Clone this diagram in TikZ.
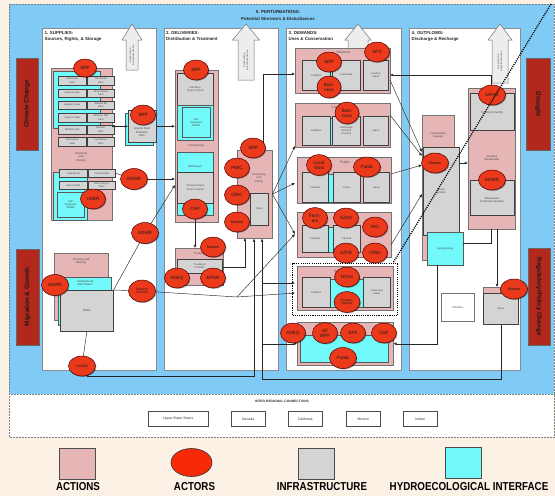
\documentclass[tikz,border=0pt]{standalone}
\usepackage{fontspec}
\setmainfont{Liberation Sans}
\usetikzlibrary{shapes.geometric,arrows.meta,shadows,calc}
\pgfdeclarelayer{top}
\pgfsetlayers{main,top}
\definecolor{cream}{HTML}{FBF1E4}
\definecolor{bluec}{HTML}{80CBF6}
\definecolor{barred}{HTML}{B3281D}
\definecolor{pinkc}{HTML}{E6B5B5}
\definecolor{grayc}{HTML}{D4D4D4}
\definecolor{cyanc}{HTML}{72FAFA}
\definecolor{actc}{HTML}{EB3A1B}
\definecolor{legred}{HTML}{F72A08}
\definecolor{evapc}{HTML}{EDEDED}
\tikzset{
 bx/.style n args={4}{anchor=north west, at={(#1,#2)}, minimum width=#3, minimum height=#4},
 base/.style={inner sep=0.3pt, align=center, text=black!70, font=\fontsize{2.6}{3.1}\selectfont},
 sh/.style={drop shadow={shadow xshift=0.9pt, shadow yshift=-0.9pt, opacity=0.35, fill=black}},
 colbox/.style={draw=black!45, fill=white, line width=0.4pt, inner sep=0},
 act/.style={base, draw=black!55, fill=pinkc, line width=0.45pt, sh},
 inf/.style={base, draw=black!75, fill=grayc, line width=0.6pt, sh},
 hyd/.style={base, draw=black!65, fill=cyanc, line width=0.45pt, sh},
 actor/.style={ellipse, draw=black!70!red, fill=actc, line width=0.5pt, minimum width=25, minimum height=20, inner sep=0pt, align=center, text=black!90, font=\fontsize{4.6}{5}\selectfont, sh},
 arr/.style={line width=0.45pt, draw=black!85, -{Latex[length=3.2pt,width=2.8pt]}},
 ln/.style={line width=0.45pt, draw=black!85},
 hdr/.style={inner sep=0, text=black!85, font=\bfseries\fontsize{4.4}{6.5}\selectfont},
 lab/.style={inner sep=0, align=center, text=black!70, font=\fontsize{2.8}{3.3}\selectfont},
 redbar/.style={draw=black!60, fill=barred, line width=0.5pt, inner sep=0, font=\bfseries\fontsize{6.3}{7}\selectfont, text=black!90},
 evap/.style={draw=black!55, fill=evapc, line width=0.5pt},
 reg/.style={draw=black!70, fill=white, line width=0.5pt, minimum height=15, inner sep=0, font=\fontsize{3.5}{4}\selectfont, text=black!80, sh},
 legt/.style={inner sep=0, font=\bfseries\fontsize{11.5}{12}\selectfont, xscale=0.85},
 dotbox/.style={draw=black, line width=1.2pt, dash pattern=on 1.1pt off 1.1pt},
}
\begin{document}
\begin{tikzpicture}[x=1pt,y=-1pt]
\useasboundingbox (0,0) rectangle (555,496);
\fill[cream] (0,0) rectangle (555,496);
\fill[bluec] (9,4) rectangle (554,394);
\fill[white] (9,394) rectangle (554,437);
\draw[black!50, densely dotted, line width=0.5pt] (9,4) rectangle (554,437);
\draw[black!50, densely dotted, line width=0.5pt] (9,394) -- (554,394);

\node[hdr] (t0) at (278,12) {0. PERTURBATIONS:};
\node[hdr] (t0b) at (278,18.5) {Potential Stressors \& Disturbances};

% side bars
\node[redbar, minimum width=92, minimum height=22, rotate=90] (cc) at (27,104) {Climate Change};
\node[redbar, minimum width=96, minimum height=23, rotate=90] (mg) at (27.5,297) {Migration \& Growth};
\node[redbar, minimum width=92, minimum height=24, rotate=-90] (dr) at (538,104) {Drought};
\node[redbar, minimum width=97, minimum height=22, rotate=-90] (rp) at (539,296.5) {Regulatory/Policy Change};

% columns
\node[colbox, bx={42}{28}{114}{342}] (col1) {};
\node[colbox, bx={163.5}{28}{114.5}{342}] (col2) {};
\node[colbox, bx={286}{28}{115}{342}] (col3) {};
\node[colbox, bx={409}{28}{111}{342}] (col4) {};

\node[hdr, anchor=north west, align=left] (h1) at (44.5,31) {1. SUPPLIES:\\Sources, Rights, \& Storage};
\node[hdr, anchor=north west, align=left] (h2) at (166,31) {2. DELIVERIES:\\Distribution \& Treatment};
\node[hdr, anchor=north west, align=left] (h3) at (288.5,31) {3. DEMANDS:\\Uses \& Conservation};
\node[hdr, anchor=north west, align=left] (h4) at (411.5,31) {4. OUTFLOWS:\\Discharge \& Recharge};

% evaporation arrows
\foreach \cx/\hw/\sw/\bot [count=\i] in {132/10/6/70, 246/13.5/8/80, 358/13/10/80, 500/12/8/83}{
  \draw[evap] (\cx,24) -- (\cx+\hw,40) -- (\cx+\sw,40) -- (\cx+\sw,\bot) -- (\cx-\sw,\bot) -- (\cx-\sw,40) -- (\cx-\hw,40) -- cycle;
  \node[lab, rotate=90, font=\fontsize{2.4}{2.9}\selectfont] (ev\i) at (\cx,{(40+\bot)/2}) {Evaporation \&\\Evapotranspiration};
}

% ---------- column 1
\node[act, bx={51}{68}{61}{152}] (dam) {};
\node[lab] (damt) at (81,157) {Damming\\and\\Storing};
\node[hyd, bx={53}{71}{47}{57}] (damcy) {};
\foreach \r/\yy/\la/\lb in {1/76/{Roosevelt\\Lake}/{Roosevelt\\Dam}, 2/88.5/{Apache Lake}/{Horse Mesa\\Dam}, 3/100.5/{Saguaro Lake}/{Stewart Mt\\Dam}, 4/113/{Canyon Lake}/{Mormon Flat\\Dam}, 5/125/{Bartlett Lake}/{Bartlett\\Dam}, 6/137/{Horseshoe\\Lake}/{Horseshoe\\Dam}}{
  \node[inf, bx={58}{\yy}{28}{8.5}] (gl\r) {\la};
  \node[inf, bx={87}{\yy}{27}{8.5}] (gr\r) {\lb};
}
\node[hyd, bx={125}{113}{28}{32}] (divcy) {};
\node[inf, bx={128}{110}{28}{32}] (div) {};
\node[lab] (divt) at (142,132) {Granite Reef\\Diversion\\Dam};

\node[hyd, bx={53}{172}{34}{48}] (lmcy) {};
\node[hyd, bx={57}{192}{27}{25}] (fish1) {Fish\\Vegetation\\Wildlife};
\node[inf, bx={59}{169}{28}{8}] (lmead) {Lake Mead};
\node[inf, bx={88}{169}{27}{8}] (hoover) {Hoover Dam};
\node[inf, bx={59}{181}{28}{8}] (lpowell) {Lake Powell};
\node[inf, bx={88}{181}{27}{8}] (glen) {Glen Canyon\\Dam};

\node[act, bx={54}{253}{54}{67}] (pump) {};
\node[lab, anchor=north] (pumpt) at (81,258) {Pumping and\\Banking};
\node[hyd, bx={58}{277}{53}{48}] (ugw) {};
\node[lab, anchor=north] (ugwt) at (85,280) {Underground\\Water Basin};
\node[inf, bx={60}{290}{53}{41}, font=\fontsize{3}{3.5}\selectfont] (wells) {Wells};

% ---------- column 2
\node[act, bx={175}{70}{43}{152}] (trans) {};
\node[inf, bx={177}{73}{36}{32}] (srpc) {Salt River\\Project Canals};
\node[hyd, bx={177}{105}{36}{35}] (fishcy) {};
\node[hyd, bx={182}{107}{28}{30}] (fish2) {Fish\\Vegetation\\Wildlife};
\node[lab] (transt) at (196,146) {Transporting};
\node[hyd, bx={177}{152}{36}{21}] (wway) {};
\node[lab] (wwayt) at (195,167) {Waterways};
\node[hyd, bx={177}{200}{36}{15}] (capcy) {};
\node[inf, bx={177}{172}{36}{31}] (capc) {Central Arizona\\Project Canals};

\node[act, bx={175}{248}{48}{37}] (treat) {};
\node[lab] (treatt) at (199,254) {Treating};
\node[inf, bx={177}{259}{45}{14}] (tfac) {Treatment\\Facilities};

\node[act, bx={237}{150}{35}{88}] (piping) {};
\node[lab] (pipingt) at (259,178) {Structuring\\and\\Piping};
\node[inf, bx={250}{193}{18}{32}] (pipes2) {Pipes};

% ---------- column 3
\node[act, bx={295}{48}{95}{45}] (ind) {};
\node[lab, font=\fontsize{3.2}{3.6}\selectfont] (indt) at (343,52) {Industrial};
\node[hyd, bx={328}{62}{6}{28}] (indcy) {};
\node[inf, bx={302}{60}{28}{30}] (indf) {Facilities};
\node[inf, bx={332}{60}{28}{30}] (indl) {Landscape};
\node[inf, bx={363}{60}{25}{30}] (indc) {Cooling\\Lakes};

\node[act, bx={295}{103}{95}{44}] (com) {};
\node[lab, font=\fontsize{3.2}{3.6}\selectfont] (comt) at (340,107.5) {Commercial};
\node[hyd, bx={328}{118}{6}{27}] (comcy) {};
\node[inf, bx={302}{116}{28}{29}] (comf) {Facilities};
\node[inf, bx={332}{116}{28}{29}] (coml) {Landscape\\and Golf\\Courses};
\node[inf, bx={363}{116}{25}{29}] (comk) {Lakes};

\node[act, bx={297}{157}{94}{46}] (pub) {};
\node[lab, font=\fontsize{3.4}{4}\selectfont] (pubt) at (345,162) {Public};
\node[hyd, bx={328}{174}{6}{28}] (pubcy) {};
\node[inf, bx={302}{172}{26}{30}] (pubf) {Facilities};
\node[inf, bx={333}{172}{27}{30}] (pubp) {Parks};
\node[inf, bx={363}{172}{26}{30}] (publ) {Lakes};

\node[act, bx={297}{212}{94}{45}] (agr) {};
\node[hyd, bx={328}{227}{6}{25}] (agrcy) {};
\node[inf, bx={302}{225}{26}{27}] (agrf) {Facilities};
\node[inf, bx={333}{225}{27}{27}] (agrm) {Farmed};

\node[dotbox, bx={292}{263}{105}{52}] (resdot) {};
\node[act, bx={297}{266}{96}{44}] (res) {};
\node[lab, font=\fontsize{3.2}{3.6}\selectfont] (rest) at (342,271) {Residential};
\node[hyd, bx={330}{279}{33}{28}] (rescy) {};
\node[inf, bx={302}{277}{28}{30}] (resf) {Facilities};
\node[inf, bx={363}{277}{27}{30}] (resp) {Pools and\\Lakes};

\node[act, bx={297}{322}{96}{43}] (env) {};
\node[hyd, bx={300}{335}{88}{27}] (envcy) {};

% ---------- column 4
\node[act, bx={468}{88}{47}{141}] (otreat) {};
\node[inf, bx={470}{93}{44}{37}] (tfac4) {};
\node[lab] (tfac4t) at (492,113) {Treatment Facility};
\node[lab] (twt) at (492,158) {Treating\\Wastewater};
\node[inf, bx={470}{180}{44}{35}] (wwtf) {};
\node[lab] (wwtft) at (492,200) {Wastewater\\Treatment Facilities};
\node[act, bx={422}{115}{32}{145}] (sew) {};
\node[lab] (sewt) at (438,135) {Transporting\\Sewage};
\node[inf, bx={423}{147}{36}{88}] (sewer) {};
\node[lab] (sewert) at (441,191) {Sewer\\System};
\node[hyd, bx={427}{232}{36}{33}] (hydro) {Hydrogeology};
\node[act, bx={483}{287}{17}{8}] (pipes4p) {};
\node[inf, bx={483}{293}{35}{31}] (pipes4) {Pipes};
\node[base, draw=black!55, fill=white, line width=0.5pt, bx={441}{293}{33}{28}, sh] (infil) {Infiltration};

% ---------- inter-regional
\node[inner sep=0, font=\bfseries\fontsize{3.3}{4}\selectfont, text=black!80] (irc) at (282,401) {INTER-REGIONAL CONNECTIONS};
\node[reg, bx={148}{411}{60}{15}] (ubs) {Upper Basin States};
\node[reg, bx={231}{411}{34}{15}] (nev) {Nevada};
\node[reg, bx={288}{411}{34}{15}] (cal) {California};
\node[reg, bx={346}{411}{34}{15}] (mex) {Mexico};
\node[reg, bx={403}{411}{34}{15}] (ind2) {Indian};

% ---------- legend
\node[draw=black!70, fill=pinkc, line width=0.6pt, bx={59}{448}{36}{31}] (lg1) {};
\node[ellipse, draw=black!80, fill=legred, line width=0.6pt, minimum width=41, minimum height=28] (lg2) at (191.5,462.5) {};
\node[draw=black!70, fill=grayc, line width=0.6pt, bx={298}{448}{35.5}{31}] (lg3) {};
\node[draw=black!70, fill=cyanc, line width=0.6pt, bx={445}{447}{36}{31}] (lg4) {};
\node[legt] (lt1) at (78,487) {ACTIONS};
\node[legt] (lt2) at (194.5,487) {ACTORS};
\node[legt] (lt3) at (322,487) {INFRASTRUCTURE};
\node[legt] (lt4) at (469,487) {HYDROECOLOGICAL INTERFACE};

% ---------- actors
\begin{pgfonlayer}{top}
\node[actor, minimum width=23, minimum height=18] (srp1) at (85,68) {SRP};
\node[actor] (srp2) at (143,115) {SRP};
\node[actor] (usbr) at (93,199) {USBR};
\node[actor, minimum width=27, minimum height=21] (adwr1) at (134,179) {ADWR};
\node[actor, minimum width=27, minimum height=21] (adwr2) at (145,233) {ADWR};
\node[actor, minimum width=27, minimum height=21] (adwr3) at (55,285) {ADWR};
\node[actor, minimum width=27, minimum height=22, font=\fontsize{3.2}{3.7}\selectfont] (po1) at (142,291) {Property\\Owners};
\node[actor, minimum width=27, font=\fontsize{3.4}{4}\selectfont] (cagrd) at (82,366) {CAGRD};
\node[actor] (srp3) at (196,70) {SRP};
\node[actor] (cap) at (195,209) {CAP};
\node[actor] (srp4) at (253,148) {SRP};
\node[actor] (pmic) at (237,168) {PMIC};
\node[actor] (gric) at (237,195) {GRIC};
\node[actor, font=\fontsize{3.8}{4.3}\selectfont] (mun2) at (237,222) {Munies};
\node[actor, font=\fontsize{3.8}{4.3}\selectfont] (mun1) at (213,247) {Munies};
\node[actor] (adeq1) at (177,278) {ADEQ};
\node[actor] (epnr) at (213,278) {EPNR};
\node[actor] (srp5) at (329,62) {SRP};
\node[actor, minimum width=24, minimum height=22] (busi1) at (329,87) {Busi-\\ness};
\node[actor] (aps) at (377,52) {APS};
\node[actor, minimum width=24, minimum height=22] (busi2) at (347,113) {Busi-\\ness};
\node[actor, minimum width=25, minimum height=21] (lgov) at (319,165) {Local\\Govt};
\node[actor, minimum width=27] (pub1) at (367,167) {Public};
\node[actor, minimum width=25, minimum height=21] (farm) at (315,218) {Farm-\\ers};
\node[actor] (azda) at (346,218) {AZDA};
\node[actor] (wg) at (375,227) {WG};
\node[actor] (azfb) at (346,253) {AZFB};
\node[actor] (cfbs) at (375,253) {CFBs};
\node[actor] (hoas) at (347,277) {HOAs};
\node[actor, minimum width=26, minimum height=21, font=\fontsize{3.2}{3.7}\selectfont] (po2) at (347,302) {Property\\Owners};
\node[actor] (adeq2) at (293,333) {ADEQ};
\node[actor, minimum height=21] (azwpf) at (325,333) {AZ\\WPF};
\node[actor] (epa) at (353,333) {EPA};
\node[actor] (gf) at (384,333) {G\&F};
\node[actor, minimum width=27, minimum height=21] (pub2) at (343,358) {Public};
\node[actor, minimum width=27] (srog) at (492,95) {SROG};
\node[actor, minimum width=27] (adwr4) at (492,180) {ADWR};
\node[actor, minimum width=27, font=\fontsize{3.8}{4.3}\selectfont] (mun3) at (435,163) {Munies};
\node[actor, minimum width=27, font=\fontsize{3.8}{4.3}\selectfont] (mun4) at (514,289) {Munies};
\end{pgfonlayer}

% ---------- connectors
\draw[arr] (dam.east |- div.west) -- (div.west);
\draw[arr] (div.east) -- (div.east -| trans.west);
\draw[ln] (hoover.east) -- (adwr1);
\draw[arr] (adwr1) -- (adwr1 -| trans.west);
\coordinate (c185) at (175,185);
\draw[ln] (wells.north east) -- (adwr2);
\draw[arr] (adwr2) -- (c185);
\coordinate (j1) at (237,297);
\draw[ln] (wells.north east) -- (po1) -- (j1);
\draw[ln] (wells.south) -- (cagrd);
\coordinate (b1) at (254,376);
\draw[arr] (cagrd.-60) |- (b1) -- (b1 |- piping.south);
\coordinate (b2) at (262,379);
\draw[arr] (pipes4.south) |- (b2) -- (b2 |- piping.south);
\coordinate (b3) at (245,238);
\draw[arr] (treat.east) -| (b3);
\draw[arr] (cap) -- (cap |- treat.north);
\coordinate (t1) at (263,150);
\coordinate (t2) at (295,74);
\draw[arr] (t1) |- (t2);
\coordinate (fa) at (295,146);
\coordinate (fb) at (295,183);
\coordinate (fc) at (295,234);
\coordinate (fd) at (295,293);
\coordinate (fe) at (295,283);
\draw[arr] (piping.east) -- (fa);
\draw[arr] (piping.east) -- (fb);
\draw[arr] (piping.east) -- (fc);
\draw[arr] (j1) -- (fc);
\draw[arr] (j1) -- (fd);
\draw[arr] (b2 |- fe) -- (fe);
\draw[arr] (b2 |- env.west) -- (env.west);
\coordinate (o1) at (390,80);
\coordinate (o2) at (390,115);
\coordinate (o3) at (391,174);
\coordinate (o4) at (391,245);
\coordinate (s1) at (422,152);
\coordinate (s2) at (422,156);
\coordinate (s3) at (422,165);
\coordinate (s4) at (422,194);
\draw[arr] (o1) -- (s1);
\draw[arr] (o2) -- (s2);
\draw[arr] (o3) -- (s3);
\draw[arr] (o4) -- (s4);
\coordinate (r1) at (491,88);
\coordinate (r2) at (390,75);
\draw[arr] (r1) |- (r2);
\draw[arr] (sewer.east |- mun3) -- (otreat.west |- mun3);
\coordinate (hh1) at (463,243);
\coordinate (hh2) at (491,229);
\draw[ln] (hh1) -| (hh2);
\coordinate (p1) at (497,229);
\draw[arr] (p1) -- (p1 |- pipes4p.north);
\coordinate (hh3) at (437,265);
\draw[arr] (hh3) |- (env.east);

\begin{pgfonlayer}{top}
\coordinate (d1) at (551,4);
\coordinate (d2) at (393,263);
\draw[black, line width=1.3pt, dash pattern=on 1.1pt off 1.1pt] (d1) -- (d2);
\end{pgfonlayer}
\end{tikzpicture}
\end{document}
